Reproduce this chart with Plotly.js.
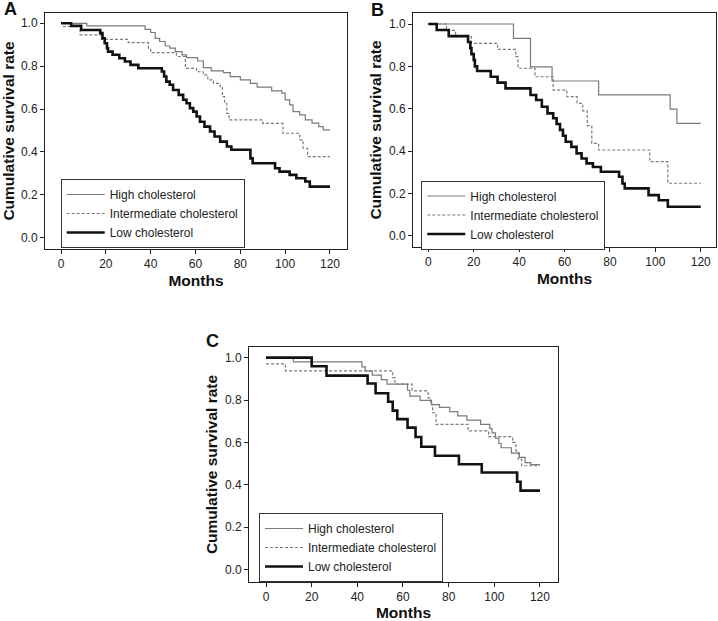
<!DOCTYPE html>
<html><head><meta charset="utf-8">
<script src="https://cdn.plot.ly/plotly-3.0.1.min.js"></script>
<style>html,body{margin:0;padding:0;background:#fff}#chart{width:718px;height:621px}</style>
</head><body><div id="chart"></div>
<script>
// ---------- data ----------
const seriesNames = ['High cholesterol', 'Intermediate cholesterol', 'Low cholesterol'];
const panelLabels = ['A', 'B', 'C'];
const monthTicks = [0, 20, 40, 60, 80, 100, 120];
const rateTicks = [0, 0.2, 0.4, 0.6, 0.8, 1.0];

// Panel A
const aHighMonths = [0, 11.5, 37.5, 40, 42, 44, 46.5, 48.5, 51, 54, 56, 61, 63.5, 67, 72.5, 75.5, 80, 84.5, 87.5, 94, 98.5, 100, 102, 103.5, 106.5, 109, 112, 115, 117, 120];
const aHighRate = [1.0, 0.988, 0.972, 0.957, 0.93, 0.915, 0.894, 0.884, 0.868, 0.853, 0.84, 0.824, 0.793, 0.778, 0.77, 0.751, 0.736, 0.72, 0.702, 0.685, 0.674, 0.643, 0.619, 0.588, 0.573, 0.549, 0.534, 0.518, 0.503, 0.503];
const aMidMonths = [0, 1, 8.5, 18, 30, 39, 40, 51.5, 55.5, 60.5, 63.5, 65.5, 68, 71, 72, 73, 74, 75, 90, 99, 106.5, 108, 110, 120];
const aMidRate = [1.0, 0.985, 0.946, 0.925, 0.91, 0.884, 0.863, 0.845, 0.79, 0.774, 0.759, 0.736, 0.72, 0.701, 0.658, 0.627, 0.58, 0.549, 0.533, 0.487, 0.456, 0.417, 0.378, 0.378];
const aLowMonths = [0, 4.5, 9, 17.5, 18.5, 19.5, 20.5, 21, 23, 26, 28.5, 31, 34.5, 45, 46, 47, 48.5, 50, 52.5, 54.5, 56, 57.5, 59, 60.5, 62, 64, 66.5, 68.5, 71, 74, 76, 84.5, 85.5, 95.5, 97.5, 102, 105, 109, 111, 120];
const aLowRate = [1.0, 0.988, 0.969, 0.954, 0.93, 0.907, 0.884, 0.868, 0.853, 0.837, 0.822, 0.806, 0.79, 0.775, 0.752, 0.728, 0.713, 0.689, 0.666, 0.643, 0.627, 0.604, 0.588, 0.565, 0.541, 0.518, 0.495, 0.472, 0.448, 0.425, 0.41, 0.37, 0.347, 0.324, 0.308, 0.293, 0.277, 0.262, 0.238, 0.238];

// Panel B
const bHighMonths = [0, 37.5, 45, 54.5, 75, 106.5, 109.5, 120];
const bHighRate = [1.0, 0.932, 0.798, 0.731, 0.665, 0.598, 0.531, 0.531];
const bMidMonths = [0, 8, 12, 19, 30.5, 38.5, 39.5, 47, 55, 61, 65.5, 68, 70, 72, 75, 97.5, 105.5, 120];
const bMidRate = [1.0, 0.97, 0.94, 0.909, 0.88, 0.846, 0.791, 0.751, 0.688, 0.657, 0.625, 0.59, 0.52, 0.436, 0.405, 0.35, 0.248, 0.248];
const bLowMonths = [0, 3.7, 9, 17.5, 18.5, 19, 20, 20.5, 21.5, 27.5, 30.5, 34, 45, 47.5, 50, 52.5, 55, 56.5, 58, 59.3, 60.5, 63, 65.3, 67.5, 69.7, 72.5, 76, 84, 85.5, 86.5, 97, 101.5, 105.5, 120];
const bLowRate = [1.0, 0.972, 0.943, 0.915, 0.886, 0.858, 0.83, 0.80, 0.778, 0.751, 0.723, 0.696, 0.665, 0.641, 0.609, 0.578, 0.555, 0.528, 0.50, 0.472, 0.444, 0.42, 0.389, 0.365, 0.342, 0.325, 0.302, 0.279, 0.247, 0.224, 0.192, 0.168, 0.137, 0.137];

// Panel C
const cHighMonths = [0, 12, 42, 43.5, 46.5, 50.5, 53, 62, 63, 67.5, 72.5, 76, 80.5, 84, 88, 94, 98, 99, 100.5, 102, 103, 107.5, 111, 113.5, 116, 120];
const cHighRate = [1.0, 0.98, 0.956, 0.937, 0.917, 0.896, 0.875, 0.846, 0.818, 0.798, 0.778, 0.765, 0.745, 0.725, 0.705, 0.685, 0.665, 0.645, 0.62, 0.595, 0.575, 0.55, 0.53, 0.505, 0.495, 0.495];
const cMidMonths = [0, 8.5, 55.5, 56.5, 64, 71, 72, 73, 74.5, 88.5, 97.5, 108, 109.5, 110.5, 112, 120];
const cMidRate = [0.97, 0.937, 0.906, 0.875, 0.843, 0.81, 0.78, 0.74, 0.685, 0.655, 0.627, 0.6, 0.56, 0.52, 0.49, 0.49];
const cLowMonths = [0, 20, 26.5, 44.5, 48, 53.5, 55.5, 57.5, 62, 65.5, 68, 74, 84.5, 94.5, 110, 111.5, 120];
const cLowRate = [1.0, 0.959, 0.915, 0.878, 0.832, 0.792, 0.75, 0.71, 0.67, 0.626, 0.58, 0.537, 0.497, 0.458, 0.415, 0.373, 0.373];

// ---------- styling / layout ----------
const W = 718, H = 621;
const FONT = 'Liberation Sans, Arial, sans-serif';
const lineStyles = [
  {color: '#7a7a7a', width: 1.2, dash: 'solid', shape: 'hv'},
  {color: '#7a7a7a', width: 1.2, dash: '3px,2px', shape: 'hv'},
  {color: '#111111', width: 2.6, dash: 'solid', shape: 'hv'}
];
const panelData = [
  [[aHighMonths, aHighRate], [aMidMonths, aMidRate], [aLowMonths, aLowRate]],
  [[bHighMonths, bHighRate], [bMidMonths, bMidRate], [bLowMonths, bLowRate]],
  [[cHighMonths, cHighRate], [cMidMonths, cMidRate], [cLowMonths, cLowRate]]
];
// plot boxes in pixels: [left, right, top, bottom]
const boxes = [[45, 347, 13, 249], [413, 716, 13, 247], [249, 558, 347, 582]];
const xRanges = [[-7.14, 127.6], [-6.74, 126.7], [-7.45, 127.9]];
const yRanges = [[-0.053, 1.048], [-0.053, 1.052], [-0.058, 1.05]];
const legendPos = [[60.7, 179], [421.3, 180.5], [259, 513]];
const letterPos = [[2, 9.5], [369, 10], [204, 340.5]];

const traces = [];
panelData.forEach((series, p) => {
  const sfx = p === 0 ? '' : String(p + 1);
  series.forEach((s, i) => {
    traces.push({
      type: 'scatter', mode: 'lines',
      x: s[0], y: s[1],
      name: seriesNames[i],
      line: lineStyles[i],
      xaxis: 'x' + sfx, yaxis: 'y' + sfx,
      legend: 'legend' + sfx,
      hoverinfo: 'skip'
    });
  });
});

const layout = {
  width: W, height: H,
  margin: {l: 0, r: 0, t: 0, b: 0},
  paper_bgcolor: '#fff', plot_bgcolor: '#fff',
  font: {family: FONT, color: '#222', size: 12},
  showlegend: true,
  annotations: []
};

boxes.forEach((b, p) => {
  const sfx = p === 0 ? '' : String(p + 1);
  const axBase = {
    showgrid: false, zeroline: false, showline: true, mirror: true,
    linecolor: '#222', linewidth: 1,
    ticks: 'outside', ticklen: 4, tickwidth: 1, tickcolor: '#222',
    tickfont: {family: FONT, size: 12, color: '#222'},
    automargin: false
  };
  layout['xaxis' + sfx] = Object.assign({}, axBase, {
    domain: [b[0] / W, b[1] / W],
    range: xRanges[p],
    tickvals: monthTicks,
    anchor: 'y' + sfx,
    title: {text: 'Months', standoff: 4, font: {family: FONT, size: 15.5, color: '#111', weight: 'bold'}}
  });
  layout['yaxis' + sfx] = Object.assign({}, axBase, {
    domain: [1 - b[3] / H, 1 - b[2] / H],
    range: yRanges[p],
    tickvals: rateTicks,
    tickformat: '.1f',
    anchor: 'x' + sfx,
    title: {text: 'Cumulative survival rate', standoff: 3, font: {family: FONT, size: 15.5, color: '#111', weight: 'bold'}}
  });
  layout['legend' + sfx] = {
    x: legendPos[p][0] / W, y: 1 - legendPos[p][1] / H,
    xanchor: 'left', yanchor: 'top',
    bgcolor: '#fff', bordercolor: '#333', borderwidth: 1,
    font: {family: FONT, size: 12, color: '#222'},
    itemwidth: 38, traceorder: 'normal'
  };
  layout.annotations.push({
    text: '<b>' + panelLabels[p] + '</b>',
    xref: 'paper', yref: 'paper',
    x: letterPos[p][0] / W, y: 1 - letterPos[p][1] / H,
    xanchor: 'left', yanchor: 'middle', showarrow: false,
    font: {family: FONT, size: 18, color: '#111'}
  });
});

Plotly.newPlot('chart', traces, layout, {staticPlot: true, displayModeBar: false});
</script>
</body></html>
